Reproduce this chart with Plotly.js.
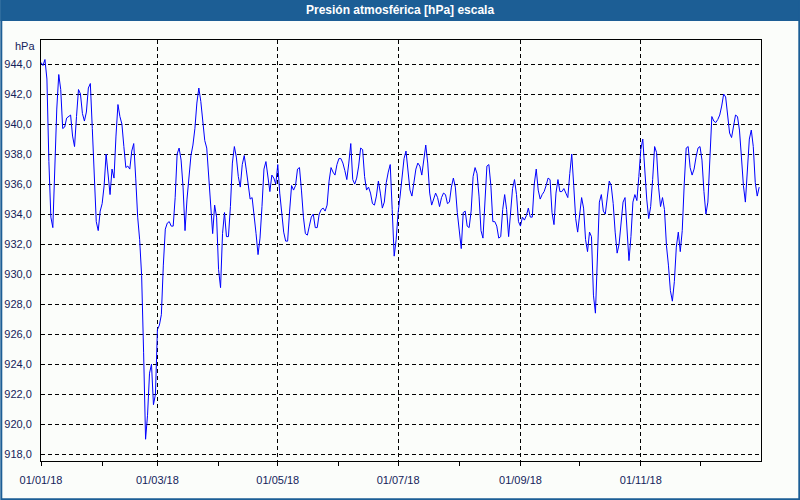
<!DOCTYPE html>
<html>
<head>
<meta charset="utf-8">
<script src="https://cdn.plot.ly/plotly-3.0.1.min.js"></script>
<style>html,body{margin:0;padding:0;background:#fbfdfa;}#chart{width:800px;height:500px;}</style>
</head>
<body>
<div id="chart"></div>
<script>
// Daily atmospheric pressure [hPa], starting 01/01/2018
const startDate = '2018-01-01';
const pressure = [
944.1, 943.9, 944.3, 943.0, 937.5, 933.8, 933.1, 937.2, 941.0, 943.3,
942.3, 939.7, 939.8, 940.4, 940.5, 940.6, 939.2, 938.5, 940.5, 942.3,
942.0, 940.7, 940.2, 940.8, 942.4, 942.7, 939.7, 936.7, 933.5, 932.9,
934.2, 934.7, 935.9, 938.0, 936.7, 935.3, 937.0, 936.4, 939.2, 941.3,
940.5, 940.0, 938.5, 937.1, 937.2, 937.0, 938.2, 938.7, 936.4, 933.8,
932.3, 929.9, 924.8, 919.0, 920.6, 923.4, 924.0, 921.3, 922.0, 926.3,
926.6, 927.3, 930.6, 933.0, 933.4, 933.5, 933.2, 933.2, 935.1, 938.0,
938.4, 937.6, 935.8, 932.9, 935.0, 936.7, 937.9, 938.6, 939.7, 941.4,
942.4, 941.5, 940.1, 938.9, 938.4, 936.5, 934.5, 932.7, 934.6, 933.8,
930.3, 929.1, 932.7, 934.1, 932.5, 932.5, 934.5, 937.4, 938.5, 937.8,
936.5, 935.8, 937.3, 937.9, 937.0, 935.9, 935.0, 935.1, 934.0, 932.7,
931.3, 932.4, 934.5, 937.0, 937.5, 936.3, 935.5, 936.6, 936.4, 936.0,
937.3, 935.4, 933.8, 932.8, 932.2, 932.2, 934.2, 935.9, 935.6, 935.9,
937.0, 937.1, 935.6, 933.8, 932.7, 932.6, 933.2, 933.8, 934.0, 933.1,
933.1, 934.0, 934.3, 934.4, 934.2, 934.6, 936.2, 937.1, 936.8, 936.6,
937.3, 937.7, 937.7, 937.4, 936.9, 936.3, 937.4, 938.7, 936.3, 936.0,
936.4, 937.2, 938.4, 938.3, 936.5, 935.6, 935.8, 935.4, 934.7, 934.6,
935.2, 936.2, 935.4, 934.4, 934.8, 936.1, 936.8, 937.3, 934.3, 931.2,
932.3, 934.1, 935.2, 936.5, 937.7, 938.2, 936.6, 935.6, 935.2, 936.0,
937.0, 937.4, 937.2, 936.6, 937.8, 938.6, 937.4, 935.4, 934.6, 935.0,
935.4, 935.1, 934.5, 935.1, 935.4, 935.3, 934.7, 934.8, 935.8, 936.4,
935.8, 934.1, 932.8, 931.7, 934.1, 934.2, 933.2, 933.1, 934.2, 936.5,
937.1, 936.7, 935.2, 932.9, 932.4, 935.2, 937.2, 937.3, 935.9, 933.5,
933.5, 933.2, 932.4, 932.5, 934.3, 935.3, 934.3, 932.5, 934.0, 935.7,
936.3, 935.3, 933.5, 933.2, 933.8, 933.6, 933.9, 934.4, 933.8, 933.8,
936.0, 937.0, 935.6, 935.0, 935.3, 935.5, 935.9, 936.4, 936.3, 934.1,
933.3, 935.4, 936.3, 935.5, 935.5, 935.7, 935.4, 935.1, 936.7, 938.0,
935.9, 933.7, 932.8, 934.0, 935.1, 934.4, 932.3, 931.5, 932.8, 932.5,
928.6, 927.4, 931.0, 934.8, 935.3, 934.2, 934.0, 935.0, 936.2, 935.9,
934.7, 932.8, 931.4, 932.0, 933.3, 934.8, 935.1, 933.0, 930.9, 932.5,
934.8, 935.3, 934.9, 936.5, 938.3, 939.0, 936.7, 935.0, 933.7, 934.5,
936.3, 938.5, 938.1, 935.8, 934.5, 935.1, 934.3, 931.9, 930.6, 928.9,
928.2, 929.5, 931.8, 932.8, 931.5, 932.9, 936.0, 938.4, 938.5, 937.1,
936.6, 937.0, 937.8, 938.4, 938.5, 937.6, 935.5, 934.0, 934.8, 938.3,
940.5, 940.2, 940.1, 940.3, 940.6, 941.2, 942.0, 941.8, 940.6, 939.4,
939.1, 940.0, 940.6, 940.5, 939.6, 937.8, 935.9, 934.8, 937.0, 939.0,
939.6, 938.5, 936.1, 935.2, 935.8
];
const titleText = 'Presión atmosférica [hPa] escala';
const unitText = 'hPa';
const xRange = ['2018-01-01', '2018-12-31 22:00'];
const yRange = [917.55, 945.6];

const t0 = new Date(startDate + 'T00:00:00Z').getTime();
const dates = pressure.map((v, i) => new Date(t0 + i * 86400000).toISOString().slice(0, 10));

// pixel helpers for decoration placement (plot area 40.7..760.7 x 40..460.7)
const L = 40.7, R = 760.7, T = 40, B = 460.7;
const px = x => (x - L) / (R - L);
const py = y => (B - y) / (B - T);

const barColor = '#1c5e95';
const tickColor = '#14235a';

const trace = {
  x: dates, y: pressure, type: 'scatter', mode: 'lines',
  line: {color: '#0000ff', width: 1}, hoverinfo: 'skip'
};

const layout = {
  width: 800, height: 500,
  margin: {l: L, r: 800 - R, t: T, b: 500 - B, pad: 0},
  paper_bgcolor: '#fbfdfa', plot_bgcolor: '#fbfdfa',
  separators: ',.',
  showlegend: false,
  font: {family: 'Liberation Sans, Arial, sans-serif', size: 11, color: tickColor},
  xaxis: {
    type: 'date', range: xRange,
    tick0: '2018-01-01', dtick: 'M2', tickformat: '%d/%m/%y',
    ticks: 'outside', ticklen: 4, tickcolor: '#000', tickwidth: 1,
    ticklabelstandoff: 5,
    showgrid: true, gridcolor: '#000', gridwidth: 1, griddash: '4px,3px',
    minor: {dtick: 'M1', tick0: '2018-01-01', ticks: 'outside', ticklen: 4, tickcolor: '#000', showgrid: false},
    showline: true, linecolor: '#000', linewidth: 1, mirror: true,
    zeroline: false, fixedrange: true,
    tickfont: {family: 'Liberation Sans, Arial, sans-serif', size: 11, color: tickColor}
  },
  yaxis: {
    range: yRange, tick0: 918, dtick: 2, tickformat: '.1f',
    ticks: '', ticklabelstandoff: 6,
    showgrid: true, gridcolor: '#000', gridwidth: 1, griddash: '4px,3px',
    showline: true, linecolor: '#000', linewidth: 1, mirror: true,
    zeroline: false, fixedrange: true,
    tickfont: {family: 'Liberation Sans, Arial, sans-serif', size: 11, color: tickColor}
  },
  shapes: [
    {type: 'rect', xref: 'paper', yref: 'paper', x0: px(0), x1: px(800), y0: py(21), y1: py(0),
     fillcolor: barColor, line: {width: 0}, layer: 'above'},
    {type: 'rect', xref: 'paper', yref: 'paper', x0: px(1), x1: px(799), y0: py(499), y1: py(0),
     fillcolor: 'rgba(0,0,0,0)', line: {color: barColor, width: 2}, layer: 'above'}
  ],
  annotations: [
    {text: '<b>' + titleText + '</b>', xref: 'paper', yref: 'paper', x: px(400), y: py(10.5),
     xanchor: 'center', yanchor: 'middle', showarrow: false,
     font: {family: 'Liberation Sans, Arial, sans-serif', size: 12, color: '#ffffff'}},
    {text: unitText, xref: 'paper', yref: 'paper', x: px(37), y: py(46),
     xanchor: 'right', yanchor: 'middle', showarrow: false,
     font: {family: 'Liberation Sans, Arial, sans-serif', size: 11, color: tickColor}}
  ]
};

Plotly.newPlot('chart', [trace], layout, {staticPlot: true, displayModeBar: false});
</script>
</body>
</html>
